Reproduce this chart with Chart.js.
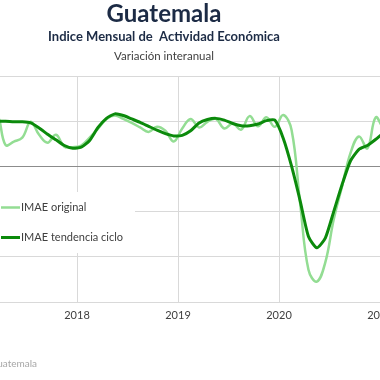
<!DOCTYPE html>
<html>
<head>
<meta charset="utf-8">
<script src="https://cdn.jsdelivr.net/npm/chart.js@4/dist/chart.umd.min.js"></script>
<style>
  html, body { margin: 0; padding: 0; background: #fff; overflow: hidden; width: 380px; height: 380px; }
  #wrap { position: absolute; left: -64px; top: 0; }
</style>
</head>
<body>
<div id="wrap"><canvas id="imaeChart" width="480" height="380"></canvas></div>
<script>
// months from Jan 2017, one value per month
var startYear = 2017;
var months = [];
for (var y = 2017; y <= 2021; y++) {
  for (var m = 1; m <= 12; m++) months.push(y + '-' + (m < 10 ? '0' + m : m));
}

// IMAE original (variación interanual, %)
var imaeOriginal = [
  3.9, 4.2, 4.6, 1.9, 2.2, 2.55, 3.95, 2.8, 2.1, 2.8, 1.75, 1.7,
  1.85, 2.55, 3.35, 4.2, 4.5, 4.2, 3.85, 3.45, 3.05, 3.5, 3.15, 2.2,
  3.35, 4.2, 3.45, 3.95, 4.2, 3.35, 3.8, 3.25, 4.45, 3.55, 4.35, 3.5,
  4.55, 3.2, -3.2, -9.15, -10.2, -8.5, -4.7, -1.75, 1.2, 2.65, 1.6, 4.35,
  3.4, 3.8
];

// IMAE tendencia ciclo
var imaeTendencia = [
  4.0, 4.0, 4.0, 4.0, 3.95, 3.95, 3.85, 3.4, 2.85, 2.35, 1.85, 1.6,
  1.7, 2.3, 3.45, 4.25, 4.65, 4.5, 4.2, 3.9, 3.55, 3.2, 2.9, 2.7,
  2.75, 3.15, 3.85, 4.15, 4.25, 4.1, 3.8, 3.6, 3.6, 3.75, 4.05, 4.1,
  2.5, 0.0, -3.0, -6.2, -7.2, -6.35, -4.0, -1.6, 0.5, 1.5, 1.85, 2.4,
  3.0, 3.3
];

var yearTicks = [2018, 2019, 2020, 2021];
var yTicks = [-12, -8, -4, 0, 4, 8];

function toPoints(values) {
  return values.map(function (v, i) {
    var parts = months[i].split('-');
    return { x: Number(parts[0]) + (Number(parts[1]) - 0.5) / 12, y: v };
  });
}

var OFFSET = 64; // canvas is shifted left, the picture is a crop

var headerPlugin = {
  id: 'header',
  beforeDatasetsDraw: function (chart) {
    var ctx = chart.ctx;
    ctx.save();
    ctx.fillStyle = '#ffffff';
    ctx.fillRect(chart.chartArea.left, 192, 135 + OFFSET - chart.chartArea.left, 61);
    ctx.restore();
  },
  afterDraw: function (chart) {
    var ctx = chart.ctx;
    var cx = 164 + OFFSET;
    ctx.save();
    ctx.textAlign = 'center';
    ctx.textBaseline = 'alphabetic';
    ctx.fillStyle = '#1c2b45';
    ctx.font = 'bold 24px Lato';
    ctx.fillText('Guatemala', cx, 22);
    ctx.font = 'bold 13px Lato';
    ctx.fillText('Indice Mensual de  Actividad Económica', cx, 40.5);
    ctx.fillStyle = '#404040';
    ctx.font = '11.5px Lato';
    ctx.fillText('Variación interanual', cx, 60);

    // legend
    ctx.textAlign = 'left';
    ctx.textBaseline = 'middle';
    ctx.font = '11px Lato';
    ctx.lineCap = 'butt';
    ctx.strokeStyle = '#93dd93';
    ctx.lineWidth = 2.5;
    ctx.beginPath(); ctx.moveTo(1 + OFFSET, 207.5); ctx.lineTo(20 + OFFSET, 207.5); ctx.stroke();
    ctx.strokeStyle = '#0b8a0b';
    ctx.lineWidth = 3;
    ctx.beginPath(); ctx.moveTo(1 + OFFSET, 237.5); ctx.lineTo(20 + OFFSET, 237.5); ctx.stroke();
    ctx.fillStyle = '#404040';
    ctx.fillText('IMAE original', 21 + OFFSET, 207.5);
    ctx.fillText('IMAE tendencia ciclo', 21 + OFFSET, 237.5);

    // source
    ctx.textAlign = 'right';
    ctx.textBaseline = 'alphabetic';
    ctx.fillStyle = '#a6a6a6';
    ctx.font = '10px Lato';
    ctx.fillText('Fuente: Banco de Guatemala', 37 + OFFSET, 367);
    ctx.restore();
  }
};

var ctx = document.getElementById('imaeChart').getContext('2d');

var myChart = new Chart(ctx, {
  type: 'line',
  data: {
    datasets: [
      {
        label: 'IMAE tendencia ciclo',
        data: toPoints(imaeTendencia),
        borderColor: '#0b8a0b',
        borderWidth: 3,
        tension: 0.2,
        pointRadius: 0,
        fill: false,
        order: 1
      },
      {
        label: 'IMAE original',
        data: toPoints(imaeOriginal),
        borderColor: '#93dd93',
        borderWidth: 2.5,
        tension: 0.4,
        pointRadius: 0,
        fill: false,
        order: 2
      }
    ]
  },
  options: {
    responsive: false,
    animation: false,
    layout: { padding: { top: 76, bottom: 56, left: 0, right: 10.75 } },
    plugins: {
      legend: { display: false },
      tooltip: { enabled: false }
    },
    scales: {
      x: {
        type: 'linear',
        min: startYear,
        max: 2021.25,
        afterBuildTicks: function (scale) {
          scale.ticks = [startYear].concat(yearTicks).map(function (v) { return { value: v }; });
        },
        afterFit: function (scale) { scale.height = 22; },
        border: { display: false },
        grid: { color: '#d9d9d9', lineWidth: 1, drawTicks: false },
        ticks: {
          padding: 7,
          color: '#404040',
          font: { family: 'Lato', size: 11 },
          maxRotation: 0,
          autoSkip: false,
          callback: function (v) { return yearTicks.indexOf(v) >= 0 ? String(v) : ''; }
        }
      },
      y: {
        min: -12,
        max: 8,
        afterBuildTicks: function (scale) {
          scale.ticks = yTicks.map(function (v) { return { value: v }; });
        },
        afterFit: function (scale) { scale.width = 40; },
        border: { display: false },
        grid: {
          drawTicks: false,
          lineWidth: 1,
          color: function (c) { return c.tick && c.tick.value === 0 ? '#8c8c8c' : '#d9d9d9'; }
        },
        ticks: { display: false }
      }
    }
  },
  plugins: [headerPlugin]
});
</script>
</body>
</html>
